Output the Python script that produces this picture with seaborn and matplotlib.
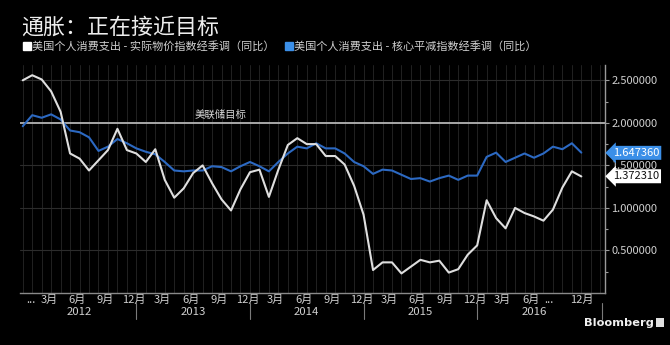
import numpy as np
import pandas as pd
import matplotlib
matplotlib.use("Agg")
import matplotlib.pyplot as plt
import matplotlib.transforms as mtransforms
from matplotlib.lines import Line2D
from matplotlib.patches import Rectangle
import seaborn as sns

# ---------------- data ----------------
title = "通胀：正在接近目标"
series_names = ["美国个人消费支出 - 实际物价指数经季调（同比）",
                "美国个人消费支出 - 核心平减指数经季调（同比）"]

# monthly, Dec 2011 .. Nov 2016
pce = [2.50, 2.56, 2.51, 2.37, 2.13, 1.64, 1.58, 1.44, 1.56, 1.68, 1.93, 1.68,
       1.64, 1.54, 1.69, 1.33, 1.12, 1.23, 1.41, 1.50, 1.29, 1.10, 0.97, 1.22,
       1.42, 1.45, 1.13, 1.45, 1.74, 1.82, 1.75, 1.75, 1.61, 1.61, 1.51, 1.26,
       0.92, 0.27, 0.36, 0.36, 0.23, 0.31, 0.39, 0.36, 0.38, 0.24, 0.28, 0.45,
       0.56, 1.09, 0.88, 0.76, 1.00, 0.94, 0.90, 0.85, 0.98, 1.24, 1.43, 1.37]
core = [1.96, 2.09, 2.06, 2.10, 2.04, 1.91, 1.89, 1.83, 1.67, 1.72, 1.81, 1.76,
        1.70, 1.66, 1.63, 1.54, 1.44, 1.43, 1.44, 1.44, 1.49, 1.48, 1.43, 1.49,
        1.54, 1.49, 1.43, 1.54, 1.64, 1.72, 1.70, 1.76, 1.70, 1.70, 1.64, 1.54,
        1.49, 1.40, 1.45, 1.44, 1.39, 1.34, 1.35, 1.31, 1.35, 1.38, 1.33, 1.38,
        1.38, 1.60, 1.65, 1.54, 1.59, 1.64, 1.59, 1.64, 1.72, 1.69, 1.76, 1.65]
last_values = [1.372310, 1.647360]

month_labels = ["...", "3月", "6月", "9月", "12月", "3月", "6月", "9月", "12月",
                "3月", "6月", "9月", "12月", "3月", "6月", "9月", "12月",
                "3月", "6月", "...", "12月"]
month_pos = [0.9, 2.75, 5.75, 8.75, 11.75, 14.75, 17.75, 20.75, 23.75,
             26.7, 29.7, 32.7, 35.8, 38.7, 41.7, 44.6, 47.8,
             50.7, 53.7, 55.6, 59.05]
year_labels = ["2012", "2013", "2014", "2015", "2016"]
year_pos = [6, 18, 30, 42, 54]
year_sep = [12, 24, 36, 48, 61.2]
target = 2.0
target_label = "美联储目标"
target_label_x = 20.9
yticks = [0.5, 1.0, 1.5, 2.0, 2.5]

# ---------------- style ----------------
sns.set_theme(style="dark")
plt.rcParams["font.family"] = ["Noto Sans CJK SC", "DejaVu Sans"]
plt.rcParams["axes.unicode_minus"] = False

BG = "#000000"
WHITE_LINE = "#dedede"
BLUE_LINE = "#2c69c2"
TAG_BLUE = "#3b8fe8"
GRID = "#222222"
TXT = "#cfcfcf"

df = pd.DataFrame({
    "idx": list(range(len(pce))) * 2,
    "value": pce + core,
    "series": [series_names[0]] * len(pce) + [series_names[1]] * len(core),
})

fig = plt.figure(figsize=(6.7, 3.45), dpi=100, facecolor=BG)
ax = fig.add_axes([20 / 670, 52 / 345, 585 / 670, 228 / 345])
ax.set_facecolor(BG)

# vertical month grid and horizontal grid
for i in range(0, 62):
    ax.axvline(i, color=GRID, lw=0.7, zorder=0)
for v in yticks:
    if v != target:
        ax.axhline(v, color="#2c2c2c", lw=0.8, zorder=0)

# target line
ax.axhline(target, color="#b4b4b4", lw=1.3, zorder=1)
ax.text(target_label_x, target + 0.03, target_label, color="#d8d8d8",
        fontsize=7.5, ha="center", va="bottom")

sns.lineplot(data=df, x="idx", y="value", hue="series",
             palette={series_names[0]: WHITE_LINE, series_names[1]: BLUE_LINE},
             hue_order=[series_names[1], series_names[0]],
             linewidth=1.5, ax=ax, legend=False, zorder=3)

ax.set_xlim(-0.29, 61.5)
ax.set_ylim(0.0, 2.68)
ax.set_xlabel("")
ax.set_ylabel("")
ax.grid(False)

# spines
for s in ["top", "left"]:
    ax.spines[s].set_visible(False)
ax.spines["right"].set_color("#9a9a9a")
ax.spines["right"].set_linewidth(1.0)
ax.spines["bottom"].set_color("#8a8a8a")
ax.spines["bottom"].set_linewidth(1.0)

# y axis on the right
ax.yaxis.tick_right()
ax.set_yticks(yticks)
ax.set_yticklabels([f"{v:.6f}" for v in yticks])
ax.set_yticks([0.25, 0.75, 1.25, 1.75, 2.25], minor=True)
ax.tick_params(axis="y", which="major", colors="#9a9a9a", labelcolor=TXT,
               labelsize=8, length=3, width=0.8, pad=1.5, direction="out")
ax.tick_params(axis="y", which="minor", colors="#9a9a9a", length=2.5,
               width=0.8, direction="out", right=True)

# x axis month labels
ax.set_xticks(month_pos)
ax.set_xticklabels(month_labels)
ax.tick_params(axis="x", which="major", length=0, pad=1.5, labelsize=8,
               labelcolor=TXT)

trans = mtransforms.blended_transform_factory(ax.transData, ax.transAxes)
for lab, p in zip(year_labels, year_pos):
    ax.text(p, -0.085, lab, transform=trans, ha="center", va="center",
            fontsize=8.2, color=TXT)
for p in year_sep:
    ax.add_line(Line2D([p, p], [-0.045, -0.115], transform=trans,
                       color="#7a7a7a", lw=0.8, clip_on=False))

# end-value tags
ytrans = mtransforms.blended_transform_factory(ax.transAxes, ax.transData)
ax.text(1.0135, last_values[1], f"{last_values[1]:.6f}", transform=ytrans,
        fontsize=8, color="white", va="center", ha="left",
        bbox=dict(boxstyle="larrow,pad=0.18", fc=TAG_BLUE, ec="none"),
        clip_on=False, zorder=5)
ax.text(1.0135, last_values[0], f"{last_values[0]:.6f}", transform=ytrans,
        fontsize=8, color="#111111", va="center", ha="left",
        bbox=dict(boxstyle="larrow,pad=0.18", fc="white", ec="none"),
        clip_on=False, zorder=5)

# title
fig.text(21 / 670, 1 - 28 / 345, title, color="#ededed", fontsize=15.8,
         ha="left", va="center")

# legend
handles = [Line2D([], [], marker="s", ls="", color="white", markersize=5.5),
           Line2D([], [], marker="s", ls="", color=TAG_BLUE, markersize=5.5)]
fig.legend(handles, series_names, loc="center left",
           bbox_to_anchor=(24 / 670, 1 - 46 / 345), ncol=2, frameon=False,
           fontsize=8, labelcolor=TXT, handlelength=0.6, handletextpad=0.15,
           columnspacing=1.0, borderaxespad=0, borderpad=0)

# Bloomberg mark
fig.text(584 / 670, 1 - 323 / 345, "Bloomberg", color="#f0f0f0", fontsize=8.2,
         fontweight="bold", ha="left", va="center", family="DejaVu Sans")
fig.patches.append(Rectangle((656 / 670, 1 - 327 / 345), 8 / 670, 9 / 345,
                             transform=fig.transFigure, fc="#e0e0e0",
                             ec="none"))

fig.savefig("out.png", dpi=100, facecolor=BG)
